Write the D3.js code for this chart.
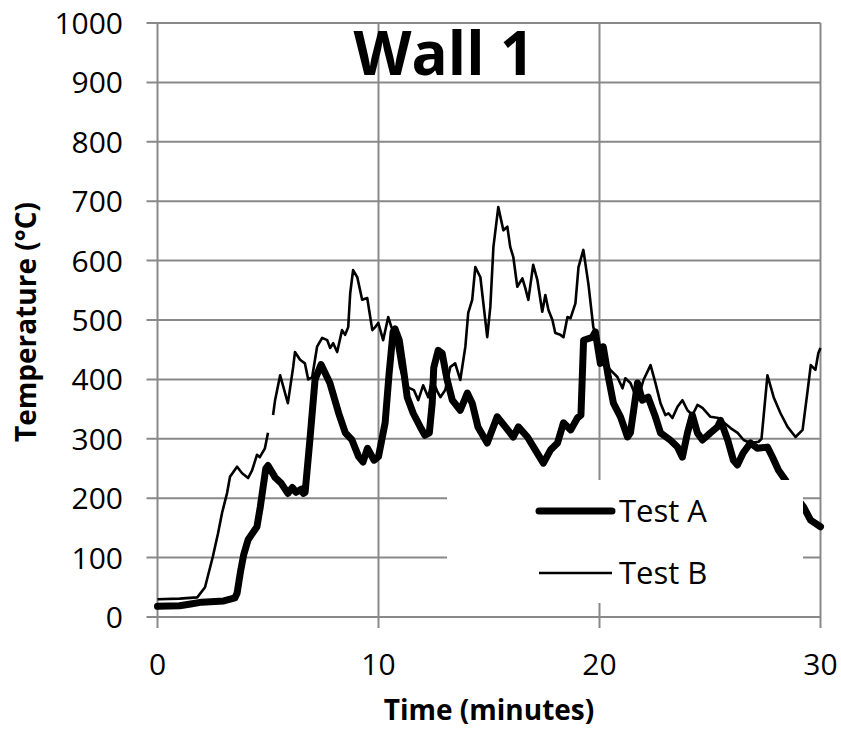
<!DOCTYPE html>
<html>
<head>
<meta charset="utf-8">
<script src="https://cdn.jsdelivr.net/npm/d3@7"></script>
<style>
  html, body { margin: 0; padding: 0; background: #fff; }
  svg { display: block; }
  text { font-family: "Open Sans", "Liberation Sans", sans-serif; fill: #000; }
</style>
</head>
<body>
<svg id="chart" width="841" height="733"></svg>
<script>
// ---- data ----
const xTicks = [0, 10, 20, 30];
const yTicks = [0, 100, 200, 300, 400, 500, 600, 700, 800, 900, 1000];
const seriesNames = ["Test A", "Test B"];

const testATime = [0, 1.0, 1.5, 2.0, 3.0, 3.5, 3.6, 3.75, 3.9, 4.1, 4.5, 4.65, 4.9, 5.0, 5.32, 5.6, 5.9, 6.1, 6.27, 6.5, 6.6, 6.68, 6.9, 7.13, 7.4, 7.8, 8.2, 8.5, 8.8, 9.1, 9.3, 9.5, 9.8, 10.0, 10.3, 10.48, 10.66, 10.75, 10.94, 11.12, 11.3, 11.57, 11.89, 12.1, 12.3, 12.43, 12.5, 12.7, 12.88, 13.1, 13.34, 13.7, 14.02, 14.24, 14.5, 14.92, 15.37, 15.74, 16.1, 16.33, 16.74, 17.1, 17.46, 17.78, 18.1, 18.37, 18.7, 19.0, 19.16, 19.28, 19.68, 19.81, 20.04, 20.17, 20.4, 20.63, 20.95, 21.27, 21.4, 21.72, 21.94, 22.2, 22.53, 22.76, 23.2, 23.53, 23.75, 23.98, 24.2, 24.43, 24.66, 25.02, 25.34, 25.48, 25.8, 26.06, 26.24, 26.5, 26.83, 27.14, 27.6, 27.83, 28.1, 28.42, 28.83, 29.24, 29.55, 30.0];
const testATemp = [18, 19, 22, 25, 27, 32, 40, 75, 105, 130, 152, 185, 250, 255, 235, 225, 208, 218, 210, 215, 208, 210, 300, 400, 425, 394, 343, 310, 298, 270, 261, 284, 264, 270, 327, 410, 480, 485, 466, 420, 370, 343, 320, 306, 310, 360, 420, 449, 444, 400, 365, 348, 377, 360, 320, 293, 337, 320, 303, 320, 303, 281, 259, 281, 293, 327, 315, 335, 340, 466, 471, 480, 427, 455, 404, 360, 337, 303, 310, 394, 365, 370, 337, 310, 298, 286, 269, 310, 340, 310, 298, 310, 320, 331, 298, 264, 256, 276, 293, 284, 286, 269, 247, 230, 205, 185, 163, 152];

const testBTime = [0, 1.0, 1.8, 2.15, 2.5, 2.74, 2.92, 3.15, 3.28, 3.6, 3.83, 4.1, 4.28, 4.5, 4.63, 4.86, 5.0, 5.1, 5.23, 5.32, 5.55, 5.86, 5.9, 6.14, 6.22, 6.45, 6.67, 6.82, 7.0, 7.22, 7.45, 7.68, 7.81, 7.95, 8.13, 8.35, 8.49, 8.63, 8.72, 8.85, 9.04, 9.26, 9.49, 9.72, 9.85, 9.99, 10.21, 10.44, 10.63, 10.8, 10.98, 11.2, 11.43, 11.6, 11.8, 12.02, 12.25, 12.43, 12.66, 12.8, 13.02, 13.25, 13.47, 13.7, 13.93, 14.06, 14.24, 14.38, 14.61, 14.92, 15.06, 15.2, 15.42, 15.65, 15.83, 15.96, 16.1, 16.28, 16.51, 16.64, 16.78, 17.0, 17.19, 17.41, 17.55, 17.69, 17.87, 18.0, 18.23, 18.37, 18.55, 18.69, 18.91, 19.05, 19.27, 19.5, 19.72, 20.04, 20.27, 20.49, 20.81, 21.04, 21.17, 21.4, 21.72, 21.99, 22.31, 22.53, 22.76, 22.98, 23.12, 23.3, 23.53, 23.75, 23.98, 24.21, 24.43, 24.66, 25.02, 25.38, 25.93, 26.25, 26.52, 26.83, 27.2, 27.33, 27.6, 27.88, 28.19, 28.51, 28.87, 29.19, 29.42, 29.56, 29.77, 29.9, 30.0];
const testBTemp = [30, 31, 33, 50, 101, 141, 175, 209, 236, 253, 242, 234, 247, 273, 269, 284, 310, null, 340, 365, 407, 365, 360, 421, 446, 433, 427, 400, 404, 455, 470, 466, 453, 461, 446, 483, 475, 488, 545, 584, 572, 534, 537, 483, 488, 495, 466, 505, 483, 460, 420, 390, 385, 382, 365, 390, 370, 400, 380, 370, 382, 421, 427, 399, 455, 512, 534, 589, 572, 471, 522, 623, 690, 651, 657, 623, 606, 556, 570, 554, 534, 593, 567, 514, 542, 517, 500, 478, 475, 471, 505, 503, 528, 589, 618, 560, 488, 449, 427, 416, 404, 385, 402, 394, 365, 399, 424, 394, 360, 340, 343, 335, 354, 365, 348, 340, 357, 352, 337, 335, 318, 310, 298, 293, 295, 300, 407, 370, 343, 320, 303, 315, 382, 424, 416, 444, 453];

// ---- layout ----
const svg = d3.select("#chart");
const plot = { left: 157.5, right: 820.5, top: 23, bottom: 617 };
const gridColor = "#898989";

const x = d3.scaleLinear().domain([0, 30]).range([plot.left, plot.right]);
const y = d3.scaleLinear().domain([0, 1000]).range([plot.bottom, plot.top]);

// gridlines (horizontal, extending left as tick marks)
svg.append("g").selectAll("line").data(yTicks).join("line")
  .attr("x1", plot.left - 11).attr("x2", plot.right)
  .attr("y1", d => y(d)).attr("y2", d => y(d))
  .attr("stroke", gridColor).attr("stroke-width", 2);

// vertical gridlines (extending down as tick marks)
svg.append("g").selectAll("line").data(xTicks).join("line")
  .attr("x1", d => x(d)).attr("x2", d => x(d))
  .attr("y1", plot.top).attr("y2", plot.bottom + 11)
  .attr("stroke", gridColor).attr("stroke-width", 2);

// y tick labels
svg.append("g").selectAll("text").data(yTicks).join("text")
  .attr("x", 123).attr("y", d => y(d) + 11)
  .attr("text-anchor", "end")
  .style("font-size", "30px")
  .text(d => d);

// x tick labels
svg.append("g").selectAll("text").data(xTicks).join("text")
  .attr("x", d => x(d)).attr("y", 675)
  .attr("text-anchor", "middle")
  .style("font-size", "30px")
  .text(d => d);

// series
const dataA = testATime.map((t, i) => ({ t, v: testATemp[i] }));
const dataB = testBTime.map((t, i) => ({ t, v: testBTemp[i] }));
const line = d3.line().defined(d => d.v !== null).x(d => x(d.t)).y(d => y(d.v));

svg.append("path").datum(dataA)
  .attr("d", line).attr("fill", "none").attr("stroke", "#000")
  .attr("stroke-width", 7).attr("stroke-linejoin", "round").attr("stroke-linecap", "round");

svg.append("path").datum(dataB)
  .attr("d", line).attr("fill", "none").attr("stroke", "#000")
  .attr("stroke-width", 2.6).attr("stroke-linejoin", "round");

// legend
const lg = svg.append("g");
lg.append("rect").attr("x", 447).attr("y", 480).attr("width", 356).attr("height", 123).attr("fill", "#fff");
const legendItems = [
  { name: seriesNames[0], width: 7, y: 511, cap: "round" },
  { name: seriesNames[1], width: 2.6, y: 573, cap: "butt" }
];
legendItems.forEach(it => {
  lg.append("line").attr("x1", 539).attr("x2", 612).attr("y1", it.y).attr("y2", it.y)
    .attr("stroke", "#000").attr("stroke-width", it.width).attr("stroke-linecap", it.cap);
  lg.append("text").attr("x", 619).attr("y", it.y + 11).style("font-size", "31px").text(it.name);
});

// title
svg.append("text").attr("x", 444).attr("y", 75).attr("text-anchor", "middle")
  .style("font-size", "60px").style("font-weight", "bold").text("Wall 1");

// axis titles
svg.append("text").attr("x", 489).attr("y", 720).attr("text-anchor", "middle")
  .style("font-size", "28px").style("font-weight", "bold").text("Time (minutes)");

svg.append("text").attr("transform", "translate(36,322) rotate(-90)")
  .attr("text-anchor", "middle")
  .style("font-size", "28px").style("font-weight", "bold").text("Temperature (°C)");
</script>
</body>
</html>
